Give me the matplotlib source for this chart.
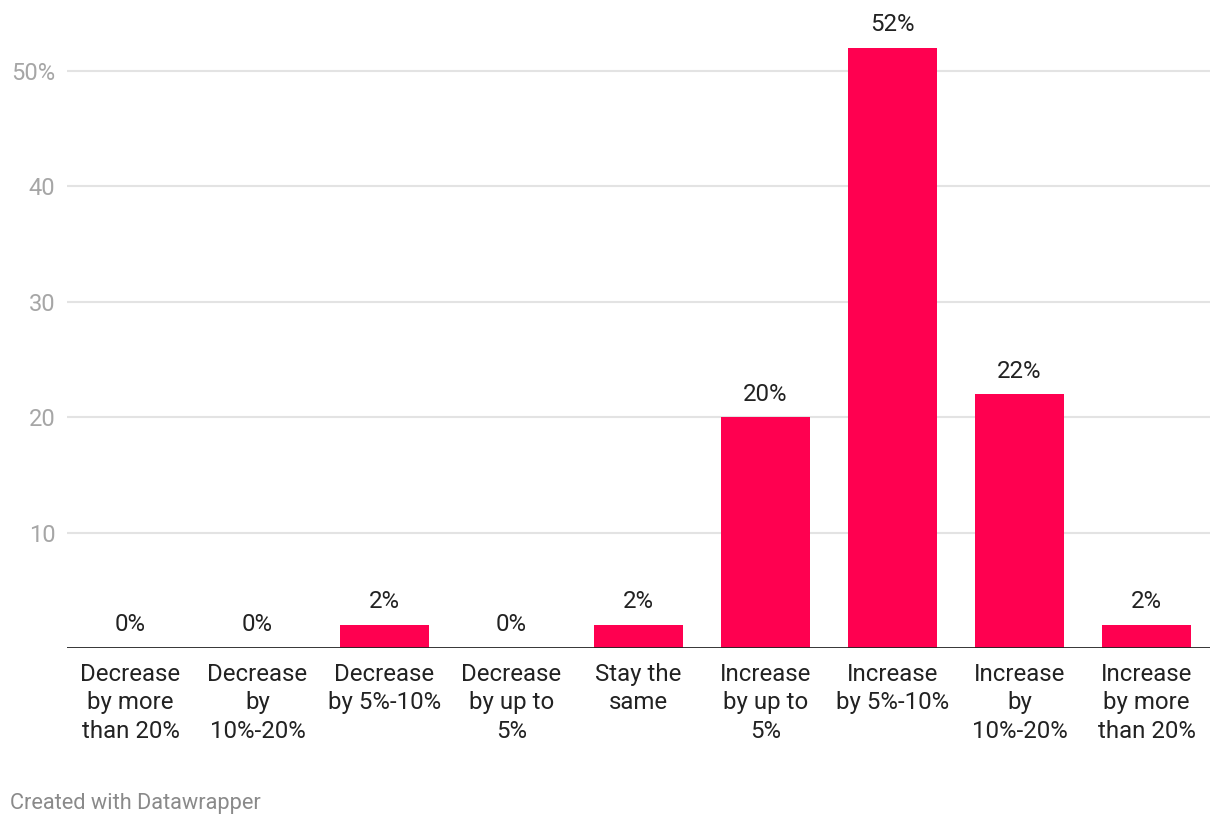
import matplotlib.pyplot as plt

plt.rcParams["font.family"] = ["Roboto", "DejaVu Sans"]

categories = [
    "Decrease\nby more\nthan 20%",
    "Decrease\nby\n10%-20%",
    "Decrease\nby 5%-10%",
    "Decrease\nby up to\n5%",
    "Stay the\nsame",
    "Increase\nby up to\n5%",
    "Increase\nby 5%-10%",
    "Increase\nby\n10%-20%",
    "Increase\nby more\nthan 20%",
]
values = [0, 0, 2, 0, 2, 20, 52, 22, 2]
yticks = [10, 20, 30, 40, 50]
ytick_labels = ["10", "20", "30", "40", "50%"]

W, H = 1220, 824
fig = plt.figure(figsize=(W / 100, H / 100), dpi=100)
px_per_unit = 11.54
ymax = 56
ax = fig.add_axes([67 / W, 1 - 648 / H, (1210 - 67) / W, ymax * px_per_unit / H])

x = list(range(len(categories)))
ax.bar(x, values, width=0.70, color="#ff0050", zorder=3)
ax.set_xlim(-0.5, len(categories) - 0.5)
ax.set_ylim(0, ymax)

for spine in ax.spines.values():
    spine.set_visible(False)
ax.axhline(0, color="#222222", linewidth=2, zorder=4)

ax.set_yticks(yticks)
ax.set_yticklabels(ytick_labels)
ax.grid(axis="y", color="#e3e3e3", linewidth=1.5, zorder=0)
ax.tick_params(axis="y", length=0, pad=8.5, labelsize=17, labelcolor="#a6a6a6")

ax.set_xticks(x)
ax.set_xticklabels(categories, fontsize=17.3, color="#222222", linespacing=1.32)
ax.tick_params(axis="x", length=0, pad=10.5)

for xi, v in zip(x, values):
    ax.text(xi, v + 1.0, f"{v}%", ha="center", va="bottom", fontsize=17.3, color="#222222")

fig.text(10 / W, 1 - 803 / H, "Created with Datawrapper", fontsize=15.7,
         color="#8a8a8a", ha="left", va="center")

fig.savefig("out.png", dpi=100)
